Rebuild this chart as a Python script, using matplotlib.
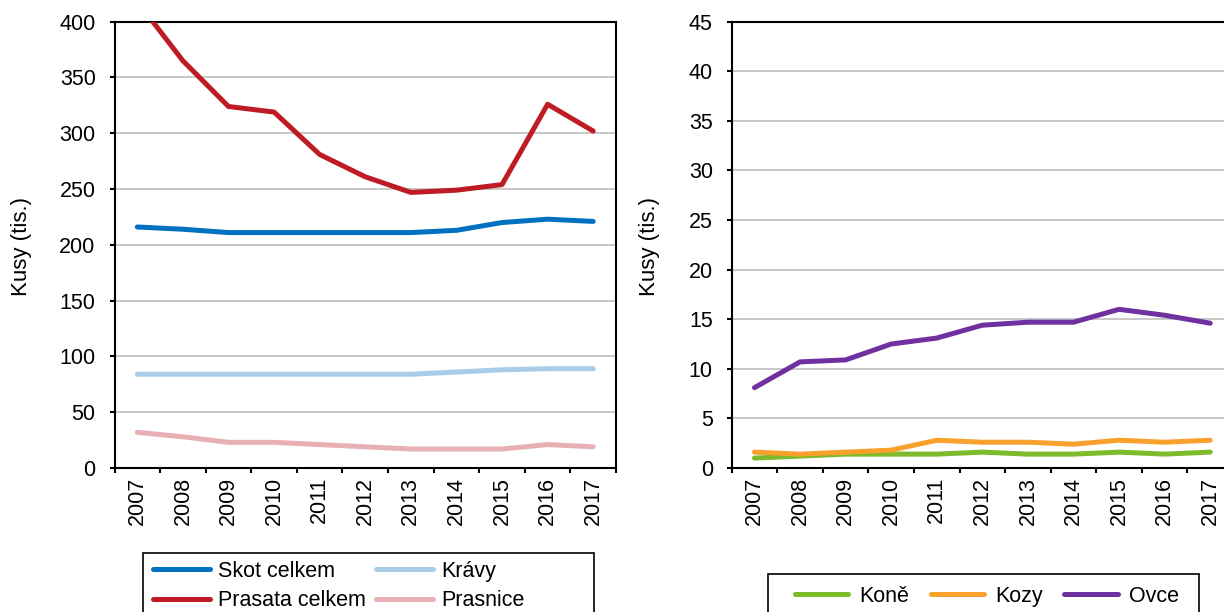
import numpy as np
import matplotlib
matplotlib.use('Agg')
import matplotlib.pyplot as plt
from matplotlib.patches import Rectangle

plt.rcParams['font.family'] = ['Liberation Sans', 'DejaVu Sans']

#data
roky = ['2007', '2008', '2009', '2010', '2011', '2012', '2013', '2014', '2015', '2016', '2017']

skot_celkem = [216, 214, 211, 211, 211, 211, 211, 213, 220, 223, 221]
kravy = [84, 84, 84, 84, 84, 84, 84, 86, 88, 89, 89]
prasata_celkem = [418, 365, 324, 319, 281, 261, 247, 249, 254, 326, 302]
prasnice = [32, 28, 23, 23, 21, 19, 17, 17, 17, 21, 19]

kone = [1.0, 1.2, 1.4, 1.4, 1.4, 1.6, 1.4, 1.4, 1.6, 1.4, 1.6]
kozy = [1.6, 1.4, 1.6, 1.8, 2.8, 2.6, 2.6, 2.4, 2.8, 2.6, 2.8]
ovce = [8.1, 10.7, 10.9, 12.5, 13.1, 14.4, 14.7, 14.7, 16.0, 15.4, 14.6]

#barvy
c_skot = '#0070C0'
c_kravy = '#A7CDE9'
c_prasata = '#BE1B24'
c_prasnice = '#E8B0B5'
c_kone = '#7DBA2C'
c_kozy = '#F9A12D'
c_ovce = '#7030A0'

W, H = 1224, 612
fig = plt.figure(figsize=(W / 100, H / 100), dpi=100)

def px(x0, y0, x1, y1):
    # pixel box -> figure fraction [left, bottom, width, height]
    return [x0 / W, 1 - y1 / H, (x1 - x0) / W, (y1 - y0) / H]

ax1 = fig.add_axes(px(114.5, 21.7, 616, 468))
ax2 = fig.add_axes(px(731.7, 21.7, 1233, 468))

x = np.arange(len(roky))
lw = 3.6

p_skot, = ax1.plot(x, skot_celkem, color=c_skot, lw=lw, solid_capstyle='round', label='Skot celkem', zorder=3)
p_kravy, = ax1.plot(x, kravy, color=c_kravy, lw=lw, solid_capstyle='round', label='Krávy', zorder=3)
p_prasata, = ax1.plot(x, prasata_celkem, color=c_prasata, lw=lw, solid_capstyle='round', label='Prasata celkem', zorder=3)
p_prasnice, = ax1.plot(x, prasnice, color=c_prasnice, lw=lw, solid_capstyle='round', label='Prasnice', zorder=3)

ax2.plot(x, kone, color=c_kone, lw=lw, solid_capstyle='round', label='Koně', zorder=3)
ax2.plot(x, kozy, color=c_kozy, lw=lw, solid_capstyle='round', label='Kozy', zorder=3)
ax2.plot(x, ovce, color=c_ovce, lw=lw, solid_capstyle='round', label='Ovce', zorder=3)

ax1.set_ylim(0, 400)
ax1.set_yticks(np.arange(0, 401, 50))
ax2.set_ylim(0, 45)
ax2.set_yticks(np.arange(0, 46, 5))

for ax in (ax1, ax2):
    ax.set_xlim(-0.5, len(roky) - 0.5)
    # tick carky mezi roky, popisky uprostred
    ax.set_xticks(np.arange(-0.5, len(roky)), labels=[''] * (len(roky) + 1))
    ax.set_xticks(x, labels=roky, minor=True)
    ax.tick_params(axis='x', which='minor', length=0, pad=6.5, labelsize=15.5, rotation=90)
    ax.tick_params(axis='x', which='major', length=3.6, width=1.5, direction='out')
    ax.tick_params(axis='y', length=3.6, width=1.5, direction='out', pad=10, labelsize=15.5)
    ax.grid(axis='y', color='#BFBFBF', lw=1.2, zorder=0)
    ax.set_axisbelow(True)
    for s in ax.spines.values():
        s.set_linewidth(1.5)
        s.set_color('black')

fig.text(21.7 / W, 1 - 246 / H, 'Kusy (tis.)', rotation=90, ha='center', va='center', fontsize=16)
fig.text(649 / W, 1 - 246 / H, 'Kusy (tis.)', rotation=90, ha='center', va='center', fontsize=16)

#legendy - ramecek zvlast, jako v Excelu
fig.add_artist(Rectangle((143 / W, -0.05), (594 - 143) / W, 0.05 + 1 - 553 / H,
                         transform=fig.transFigure, fill=False, ec='black', lw=1.2))
fig.add_artist(Rectangle((768 / W, -0.05), (1198.6 - 768) / W, 0.05 + 1 - 574 / H,
                         transform=fig.transFigure, fill=False, ec='black', lw=1.2))

# poradi po radcich: Skot, Kravy / Prasata, Prasnice
fig.legend([p_skot, p_prasata, p_kravy, p_prasnice],
           ['Skot celkem', 'Prasata celkem', 'Krávy', 'Prasnice'],
           ncol=2, loc='upper left', bbox_to_anchor=(153 / W, 1 - 561 / H),
           frameon=False, borderpad=0, borderaxespad=0, fontsize=15.5,
           handlelength=2.65, handletextpad=0.37, columnspacing=0.47, labelspacing=0.39)

h2, l2 = ax2.get_legend_handles_labels()
fig.legend(h2, l2, ncol=3, loc='upper left', bbox_to_anchor=(794.6 / W, 1 - 586 / H),
           frameon=False, borderpad=0, borderaxespad=0, fontsize=15.5,
           handlelength=2.5, handletextpad=0.5, columnspacing=1.0)

fig.savefig('out.png', dpi=100)
